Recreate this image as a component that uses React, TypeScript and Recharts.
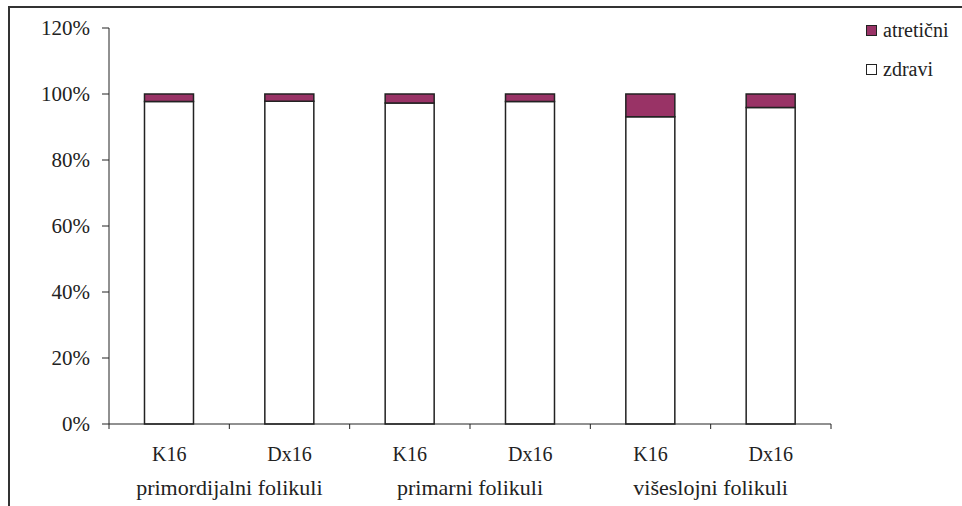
import React from "react";
import { BarChart, Bar, XAxis, YAxis } from "recharts";

const categories = ["K16", "Dx16", "K16", "Dx16", "K16", "Dx16"];
const groups = ["primordijalni folikuli", "primarni folikuli", "višeslojni folikuli"];
const zdravi = [97.7, 97.8, 97.3, 97.7, 93.1, 95.9];
const atretcni = [2.3, 2.2, 2.7, 2.3, 6.9, 4.1];
const yTicks = [0, 20, 40, 60, 80, 100, 120];
const legendItems = [
  { name: "atretični", color: "#993366" },
  { name: "zdravi", color: "#ffffff" },
];

const data = categories.map((c, i) => ({
  name: c + "_" + i,
  label: c,
  pos: i + 0.5,
  zdravi: zdravi[i],
  atretcni: atretcni[i],
}));

// ticks on a numeric axis spanning the categories: integers = boundaries, halves = category centres
const xTicks: number[] = [];
for (let i = 0; i <= categories.length * 2; i++) xTicks.push(i / 2);

const FONT = "'Liberation Serif', 'Times New Roman', serif";
const INK = "#222";

const XTick = (props: any) => {
  const { x, y, payload } = props;
  const v: number = payload.value;
  if (Number.isInteger(v)) {
    const gi = (v - 1) / 2;
    return (
      <g>
        <line x1={x} y1={y - 5} x2={x} y2={y} stroke={INK} strokeWidth={1} />
        {v % 2 === 1 && groups[gi] ? (
          <text x={x} y={y + 66} textAnchor="middle" fontFamily={FONT} fontSize={22} fill={INK}>
            {groups[gi]}
          </text>
        ) : null}
      </g>
    );
  }
  const ci = Math.floor(v);
  return (
    <text x={x} y={y + 32} textAnchor="middle" fontFamily={FONT} fontSize={20} fill={INK}>
      {categories[ci]}
    </text>
  );
};

export default function App() {
  return (
    <div style={{ position: "relative", width: 962, height: 506, overflow: "hidden", background: "#fff" }}>
      <style>{`body{margin:0}`}</style>
      <div
        style={{
          position: "absolute",
          left: 8,
          top: 6,
          width: 2000,
          height: 2000,
          border: "2px solid #333",
          boxSizing: "border-box",
        }}
      />
      <div
        style={{
          position: "absolute",
          left: 866,
          top: 11,
          fontFamily: FONT,
          fontSize: 20,
          color: INK,
          lineHeight: "39px",
        }}
      >
        {legendItems.map((it) => (
          <div key={it.name} style={{ display: "flex", alignItems: "center" }}>
            <span
              style={{
                display: "inline-block",
                width: 11,
                height: 11,
                background: it.color,
                border: "1.5px solid #222",
                marginRight: 6,
                boxSizing: "border-box",
              }}
            />
            <span>{it.name}</span>
          </div>
        ))}
      </div>
      <BarChart
        width={962}
        height={506}
        data={data}
        margin={{ top: 28, right: 131, bottom: 0, left: 0 }}
        barCategoryGap="29.5%"
        style={{ position: "absolute", left: 0, top: 0 }}
      >
        <XAxis xAxisId="cat" dataKey="name" hide height={0} />
        <XAxis
          xAxisId="grp"
          dataKey="pos"
          type="number"
          domain={[0, categories.length]}
          ticks={xTicks}
          allowDataOverflow
          interval={0}
          height={82}
          tickLine={false}
          tickSize={5}
          tickMargin={0}
          axisLine={{ stroke: INK, strokeWidth: 1 }}
          tick={<XTick />}
        />
        <YAxis
          domain={[0, 120]}
          ticks={yTicks}
          width={109}
          tickSize={7}
          tickMargin={12}
          tickFormatter={(v: number) => `${v}%`}
          axisLine={{ stroke: INK, strokeWidth: 1 }}
          tickLine={{ stroke: INK, strokeWidth: 1 }}
          tick={{ fontFamily: FONT, fontSize: 21, fill: INK }}
        />
        <Bar xAxisId="cat" dataKey="zdravi" stackId="s" fill="#ffffff" stroke="#222" strokeWidth={1.5} isAnimationActive={false} />
        <Bar xAxisId="cat" dataKey="atretcni" stackId="s" fill="#993366" stroke="#222" strokeWidth={1.5} isAnimationActive={false} />
      </BarChart>
    </div>
  );
}
